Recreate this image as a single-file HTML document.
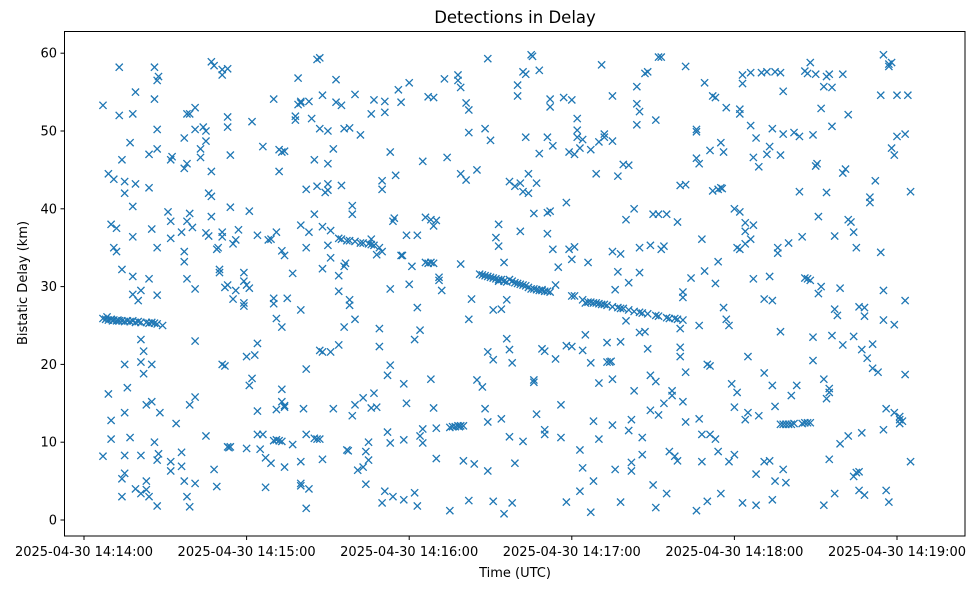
<!DOCTYPE html>
<html><head><meta charset="utf-8">
<style>
html,body{margin:0;padding:0;background:#fff;}
svg text{font-family:"DejaVu Sans","Liberation Sans",sans-serif;fill:#000;}
</style></head>
<body>
<svg id="chart" width="979" height="590" xmlns="http://www.w3.org/2000/svg">
<rect x="0" y="0" width="979" height="590" fill="#fff"/>
<text x="515" y="23" font-size="16.5" text-anchor="middle">Detections in Delay</text>
<g id="marks"></g>
<g id="axes"></g>
<rect x="64.5" y="31.5" width="900.5" height="504.5" fill="none" stroke="#000" stroke-width="1"/>
<text x="515" y="577" font-size="13" text-anchor="middle">Time (UTC)</text>
<text transform="translate(27,283) rotate(-90)" font-size="13" text-anchor="middle">Bistatic Delay (km)</text>
</svg>
<script>
// seconds after 2025-04-30 14:14:00, bistatic delay (km)
const trackA = [[7,25.9],[8,25.8],[8.5,26.1],[9,25.7],[10,25.8],[10.5,25.6],[11,25.7],[12,25.6],[12.5,25.7],[13,25.6],[14,25.6],[15,25.5],[16,25.6],[17,25.5],[18,25.6],[19,25.4],[20,25.5],[21,25.4],[23,25.4],[24,25.3],[25,25.4],[26,25.3],[27,25.2]];
const trackB = [[94,36.2],[95,36.1],[97,35.9],[98,35.9],[100,35.8],[102,35.6],[103,35.6],[105,35.5],[106,35.4],[107,35.3]];
const trackC = [[146,31.6],[147,31.5],[148,31.4],[149,31.3],[150,31.2],[151,31.1],[152,31],[153,30.9],[154,30.9],[155,30.7],[156,30.6],[157,30.9],[158,30.7],[159,30.5],[160,30.4],[161,30.3],[162,30.2],[163,30.1],[164,29.9],[165,29.7],[166,29.7],[167,29.6],[168,29.5],[169,29.5],[170,29.4],[171,29.4],[172,29.3],[180,28.8],[181,28.8],[184,28.3],[186,28],[187,28],[188,27.9],[189,27.9],[190,27.8],[191,27.7],[192,27.7],[193,27.6],[195,27.4],[197,27.3],[198,27.2],[199,27.2],[201,27],[203,26.8],[205,26.7],[206,26.6],[208,26.5],[211,26.3],[212,26.2],[215,26],[216,25.9],[218,25.9],[219,25.8],[221,25.7]];
const clusters = [[126,33.1],[127,33],[128,33.1],[129,33],[135,11.9],[136,12],[137,12],[138,12.1],[138.5,12],[139,12.1],[140,12.1],[193,20.3],[194,20.3],[194.5,20.4],[257,12.3],[258,12.3],[259,12.3],[260,12.3],[261,12.3],[262,12.4],[265,12.4],[266,12.5],[267,12.5],[268,12.5],[70,10.2],[71,10.3],[72,10.2],[73,10.1],[85,10.5],[86,10.4],[87,10.4]];
const scatter = [
[7,53.3],[9,44.5],[10,38],[11,35],[9,16.2],[10,12.8],[10,10.4],[7,8.2],[12,37.5],[12,34.5],[11,43.8],[13,52],[13,58.2],[14,46.3],[14,32.2],[15,42],[15,43.5],[15,13.8],[15,20],[14,5.3],[14,3],[15,8.3],[15,6],[16,17],[17,48.5],[18,40.3],[17,10.6],[18,29],[18,36.4],[18,52.2],[19,55],[19,43.2],[18,31.3],
[19,4],[21,29.5],[20,28.2],[21,23.2],[22,21.7],[21,20.3],[22,18.8],[21,8.3],[21,3.4],[23,3.9],[23,5],[23,14.8],[24,31],[24,3],[24,47],[24,42.7],[25,37.4],[25,15.2],[25,20],[26,54.1],[26,58.2],[27,50.2],[27,56.5],[27.5,57],[27,47.7],[27,35],[27,28.9],[26,10],[27,7.7],[27.5,8.5],[27,1.8],[28,13.8],[29,25],
[32,46.3],[32.5,46.7],[31,39.6],[32,38.4],[32,36.2],[32,7.5],[32,6.3],[34,12.4],[36,37],[37,34.5],[37,33.2],[36,8.7],[36,6.9],[37,5],[38,31],[37,49.1],[37,45.2],[38,45.8],[38,52.2],[39,52.2],[38,38.4],[39,39.4],[39,14.8],[38,3],[39,1.7],[40,37.6],[41,29.7],[41,23],[41,15.8],[41,4.7],[41,50.2],[41,53],[43,47.7],[43,46.6],[44,50.5],[45,48.7],[45,50],[45,10.8],[45,36.9],[46,36.5],[46,42],[47,41.6],[47,44.8],[47,39],
[47,58.9],[48,58.4],[48,6.5],[49,4.3],[49,34.8],[49.5,35],[50,32.2],[50,31.8],[51,37],[51,36.4],[51,20],[52,19.8],[52,29.9],[53,30.2],[53,9.4],[53.5,9.3],[54,9.4],[51,57.9],[51,57.2],[53,58],[53,51.8],[53,50.5],[54,40.2],[54,46.9],[55,28.4],[55,35.5],[56,29.5],[56,36],[57,37.3],[59,31.8],[59,30.7],[59,27.9],[59,27.5],[60,30.2],[61,29.8],[60,21],[61,17.3],[60,9.2],[61,39.7],[62,51.2],[62,18.2],[63,21.2],[64,22.7],[64,14],[64,11],[64,36.6],
[65,9.1],[66,11],[66,48],[67,8],[67,4.2],[68,36],[69,7.3],[69,36.1],[70,54.1],[70,27.8],[70,28.5],[71,25.9],[71,14.2],[71,37],[72,44.8],[72,47.6],[73,34.6],[73,24.8],[73,16.8],[73,15.2],[74,14.7],[73,47.3],[74,47.4],[74,34],[74,14.5],[75,28.5],[74,6.8],[77,31.7],[77,9.7],[78,51.4],[78,51.9],[79,56.8],[79,53.4],[80,53.6],[80,4.7],[80,4.4],[80,27],[80,7.5],[81,14.3],[80,37.9],[80,53.8],
[82,42.5],[82,11],[82,19.4],[82,35],[82,1.5],[83,53.8],[83,37],[83,4],[84,51.6],[85,46.3],[85,39.3],[86,42.9],[86,59.2],[87,59.4],[87,50.3],[88,37.7],[88,7.8],[87,21.8],[88,21.6],[88,54.6],[88,32.3],[89,42.1],[90,42.4],[90,50],[90,45.8],[90,43.2],[91,37.2],[90,35.3],[91,33.7],[91,21.6],[92,14.3],[92,47.7],[93,56.6],[93,53.7],[94,31.4],[94,29.4],[94,22.5],
[95,53.3],[95,43],[96,50.3],[96,24.8],[96,32.6],[96.5,33],[97,9],[97.5,8.9],[98,27.6],[98,28.3],[98,50.4],[99,40.4],[99,39.3],[99,13.4],[100,54.7],[100,25.8],[100,14.8],[101,6.4],[102,49.5],[103,15.7],[103,6.8],[104,4.6],[104,8.8],[105,10],[105,7.7],[106,14.4],[106,52.2],[106,36.1],[107,54],[107,16.3],[108,14.5],[108,34.1],[109,35],[109,24.6],[109,22.3],[110,2.2],[110,34.5],[110,42.5],[110,43.6],[111,52.4],[111,53.8],[111,3.7],[112,11.3],[112,18.6],[113,29.7],[113,47.3],[113,19.9],[113,9.9],[114,3],
[114,38.4],[114.5,38.8],[115,44.3],[116,55.3],[117,34],[117.5,34],[117,53.7],[118,2.6],[118,17.5],[118,10.3],[119,15],[119,36.6],[120,30.3],[120,56.2],[121,32.6],[122,23.2],[122,3.5],[123,1.8],[123,27.3],[123,36.6],[124,10.8],[124,24.4],[125,11.7],[125,9.9],[125,46.1],[126,38.9],[127,54.4],[128,38.6],[129,54.3],[128,18.1],[129,14.4],[129,37.8],[130,38.5],[130,11.8],[130,7.9],[131,31.2],[131,30.8],[132,29.5],
[133,56.7],[134,46.6],[135,1.2],[138,56.5],[138,57.2],[139,55.6],[139,32.9],[139,44.5],[140,7.6],[141,43.7],[141,53.6],[142,2.5],[142,49.8],[142,52.7],[142,25.8],[143,28.4],[144,7.2],[145,18],[145,45],[147,17.1],[148,50.3],[148,14.3],[149,21.6],[149,6.3],[149,59.3],[149,12.6],[150,48.8],[151,20.6],[151,27],[151,2.4],[152,36.3],[153,35.2],
[153,38],[153,30.7],[154,13],[154,27.1],[155,33.1],[155,0.8],[156,23.3],[156,28.3],[157,43.5],[157,10.7],[157,21.9],[158,2.2],[158,20.2],[159,42.9],[159,7.3],[160,55.9],[160,54.5],[161,37.1],[161,43.3],[162,42.2],[162,10.1],[162,57.6],[163,57.3],[163,49.2],[164,42],[164,44.5],[165,59.8],[165.5,59.6],[166,18],[166,17.7],[166,39.4],[167,13.6],[167,43.3],[168,47.1],[168,57.8],
[169,29.6],[169,22],[170,11],[170,11.6],[170,21.7],[171,36.8],[171,39.5],[171,49.2],[172,53.1],[172,39.7],[172,54.1],[173,48.1],[173,34.8],[174,30.2],[174,20.7],[175,32.5],[176,10.6],[176,14.8],[177,54.3],[178,2.3],[178,22.4],[178,40.8],[179,34.8],[179,47.3],[180,22.3],[180,54],[180,33.5],[181,47],[181,35.1],[182,49.2],[182,51.6],[182,50.1],[183,47.8],[183,9],[183,3.7],[184,48.9],[184,21.8],[184,6.7],
[185,27.9],[185,23.8],[186,33.1],[187,47.6],[187,20.2],[187,1],[188,5],[188,12.7],[189,44.5],[190,17.6],[190,10.4],[190,48.6],[191,58.5],[192,49.6],[192,49.2],[193,22.8],[195,34.5],[195,54.5],[195,48.7],[195,18.1],[195,12.2],[196,6.5],[196,29.6],[197,44.2],[197,31.9],[198,22.9],[198,34.2],[198,2.3],[199,45.7],[200,25.6],[200,38.6],[201,30.5],[201,45.6],
[201,11.5],[202,6.3],[202,12.9],[202,7.4],[203,16.6],[203,40],[204,50.8],[204,53.5],[204,55.7],[205,52.5],[205,24.1],[205,31.8],[205,35],[206,8.4],[206,10.6],[207,24.2],[207,57.4],[208,57.6],[208,22],[209,14.1],[209,35.3],[209,18.6],[210,39.3],[210,4.5],[211,51.4],[211,1.6],[211,17.8],[212,59.5],[212,39.3],[212,13.5],[213,59.5],[213,34.8],[214,35.2],[214,15],[215,39.3],[215,3.4],[216,8.8],[217,16.6],[217,16],[218,8.2],[219,7.6],[219,38.3],[220,43],[220,24.6],[220,22.2],[220,21],[221,28.6],[221,29.3],[221,15.2],[222,19],[222,58.3],[222,12.6],[222,43.1],
[224,31.1],[226,50.2],[226,49.9],[226,1.2],[226,46.5],[227,45.8],[227,25],[227,13],[228,11],[228,7.5],[228,36.1],[229,32],[229,56.2],[230,20],[230,2.4],[231,47.5],[231,19.8],[231,11],[232,54.5],[232,42.3],[233,54.3],[233,10.4],[233,30.4],[234,42.5],[234,8.8],[234,33.2],[235,48.5],[235,42.7],[235.5,42.6],[235,3.4],[236,47.3],[236,27.3],[237,53],[237,25.8],[238,25],[238,7.5],[239,17.5],[240,40],[240,14.5],[240,8.4],[241,35],[241,16.4],[242,52.2],[242,52.8],[242,34.8],
[242,39.6],[243,2.2],[243,57.2],[243,56.1],[244,38.2],[244,35.5],[244,37.1],[244,12.9],[245,21],[245,13.8],[246,57.5],[246,50.7],[246,36.1],[247,46.6],[247,37.9],[247,31],[248,49.1],[248,5.9],[248,1.9],[249,45.4],[249,13.4],[250,57.5],[251,7.5],[251,18.9],[251,28.4],[252,57.6],[252,47],[253,31.3],[253,48],[253,7.6],[254,2.6],[254,28.2],[254,50.3],[254,17.3],[255,5],[255,57.6],[255,14.6],[256,35],[256,34.3],[257,57.5],[257,46.9],[257,24.2],[258,55.1],[258,6.5],[258,49.6],[259,4.8],[260,35.6],[261,16],
[262,49.8],[263,17.3],[264,42.2],[264,49.3],[265,36.4],[266,57.7],[266,31.1],[267,31],[267,57.4],[268,30.8],[268,58.8],[269,20.5],[269,49.5],[269,23.5],[270,57.3],[270,45.5],[270.5,45.8],[271,39],[271,29.1],[272,30],[272,52.9],[273,1.9],[273,55.7],[273,18.1],[274,42.1],[274,57],[274,15.6],[275,16.4],[275,57.3],[275,16.9],[275,7.8],[276,55.6],[276,50.6],[276,23.7],[277,27.1],[277,3.4],[277,36.5],[278,26.3],[279,29.8],[279,9.8],[280,57.3],[280,22.5],[280,44.6],[281,45.1],[282,52.1],[282,38.6],[282,10.8],
[283,38.3],[284,23.6],[284,37],[284,5.6],[285,6.1],[285,35],[286,3.8],[286,27.4],[286,6.2],[287,21.9],[287,11.2],[288,27.3],[288,3.2],[288,26.2],[289,20.8],[290,41.5],[290,40.8],[291,19.5],[291,22.6],[292,43.6],[293,19],[294,54.6],[294,34.4],[295,59.8],[295,25.7],[295,11.6],[295,29.5],[296,3.8],[296,14.3],[297,58.3],[297,58.6],[297,2.3],[298,47.8],[298,58.8],[299,46.9],[299,13.8],[299,25.1],[300,54.6],[300,49.3],[301,12.4],[301,12.9],[301,13.3],[302,12.7],[303,49.6],[303,28.2],[303,18.7],[304,54.6],[305,42.2],[305,7.5]
];
const yTicks = [0,10,20,30,40,50,60];
const xTickSeconds = [0,60,120,180,240,300];
const xTickLabels = ["2025-04-30 14:14:00","2025-04-30 14:15:00","2025-04-30 14:16:00","2025-04-30 14:17:00","2025-04-30 14:18:00","2025-04-30 14:19:00"];

const NS = "http://www.w3.org/2000/svg";
function xScale(s){ return 84 + s * 162.6 / 60; }
function yScale(km){ return 520 - km * 7.78; }

const marks = document.getElementById('marks');
const allPoints = trackA.concat(trackB, trackC, clusters, scatter);
allPoints.forEach(function(p){
  const cx = xScale(p[0]), cy = yScale(p[1]), r = 3.6;
  const path = document.createElementNS(NS, 'path');
  path.setAttribute('d', 'M'+(cx-r)+','+(cy-r)+'L'+(cx+r)+','+(cy+r)+'M'+(cx-r)+','+(cy+r)+'L'+(cx+r)+','+(cy-r));
  path.setAttribute('stroke', '#1f77b4');
  path.setAttribute('stroke-width', '1.3');
  path.setAttribute('fill', 'none');
  
  
  marks.appendChild(path);
});

const axes = document.getElementById('axes');
yTicks.forEach(function(v){
  const y = yScale(v);
  const t = document.createElementNS(NS, 'line');
  t.setAttribute('x1', 60.5); t.setAttribute('x2', 64.5);
  t.setAttribute('y1', y); t.setAttribute('y2', y);
  t.setAttribute('stroke', '#000');
  
  
  axes.appendChild(t);
  const lb = document.createElementNS(NS, 'text');
  lb.setAttribute('x', 57); lb.setAttribute('y', y + 4.5);
  lb.setAttribute('font-size', '13'); lb.setAttribute('text-anchor', 'end');
  lb.textContent = v;
  
  
  axes.appendChild(lb);
});
xTickSeconds.forEach(function(s, i){
  const x = xScale(s);
  const t = document.createElementNS(NS, 'line');
  t.setAttribute('x1', x); t.setAttribute('x2', x);
  t.setAttribute('y1', 536); t.setAttribute('y2', 540);
  t.setAttribute('stroke', '#000');
  
  
  axes.appendChild(t);
  const lb = document.createElementNS(NS, 'text');
  lb.setAttribute('x', x); lb.setAttribute('y', 556);
  lb.setAttribute('font-size', '13'); lb.setAttribute('text-anchor', 'middle');
  lb.textContent = xTickLabels[i];
  
  
  axes.appendChild(lb);
});
</script>
</body></html>
